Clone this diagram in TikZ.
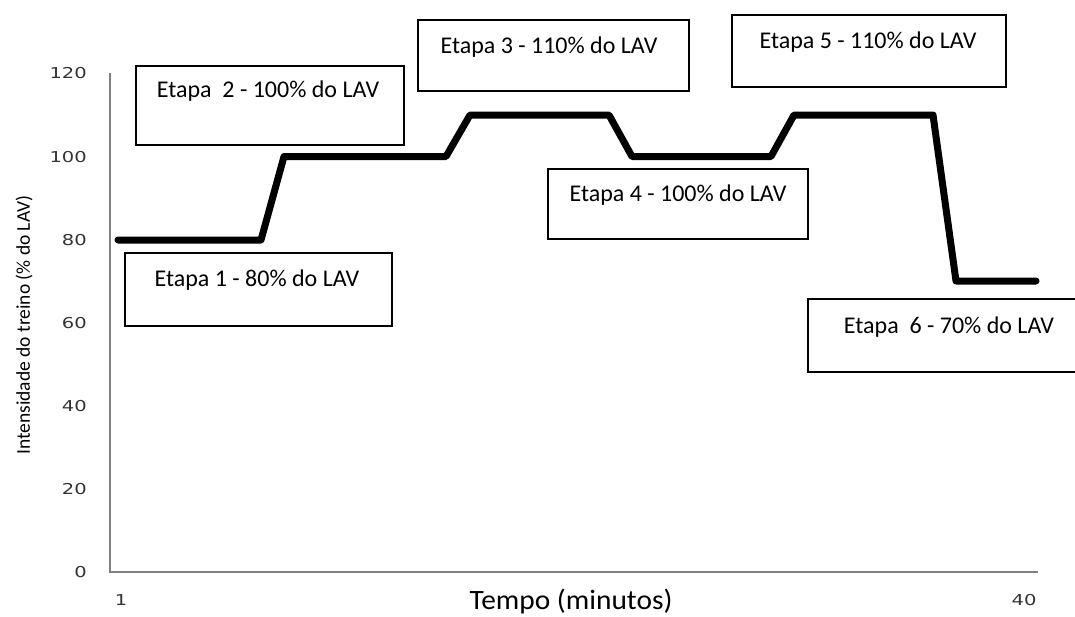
\documentclass[tikz,border=0pt]{standalone}
\usepackage{fontspec}
\setmainfont{Carlito}
\newfontfamily\tickfont{DejaVu Sans}
\begin{document}
\begin{tikzpicture}[x=1pt,y=-1pt,
  stagebox/.style={draw=black, line width=2pt, fill=white, inner sep=0pt},
  stagetext/.style={font=\fontsize{24}{27}\selectfont, inner sep=0pt, anchor=center},
  ticklab/.style={font=\tickfont\fontsize{15}{17}\selectfont, text=black!80, inner sep=0pt, xscale=1.3},
  axisline/.style={draw=black!50, line width=1.2pt},
  dataline/.style={draw=black, line width=7pt, line join=round, line cap=round}
]
\useasboundingbox (0,0) rectangle (1075,616);
% axes
\coordinate (o) at (110,572);
\coordinate (ytop) at (110,73);
\coordinate (xend) at (1038,572);
\draw[axisline] (ytop) -- (o) -- (xend);
% y tick labels
\foreach \v/\yy in {0/572,20/489,40/406,60/323,80/240,100/157,120/73}{
  \node[ticklab, anchor=east] (yl\v) at (87,\yy) {\v};
}
\node[ticklab] (xl1) at (121,600) {1};
\node[ticklab] (xl40) at (1024,600) {40};
% axis titles
\node[font=\fontsize{28}{31}\selectfont, inner sep=0pt, xscale=1.05] (xt) at (571,602) {Tempo (minutos)};
\node[font=\fontsize{19.5}{22}\selectfont, inner sep=0pt, rotate=90] (yt) at (24,325) {Intensidade do treino (\% do LAV)};
% data line
\coordinate (p0) at (118,240);
\coordinate (p1) at (261,240);
\coordinate (p2) at (284,156.5);
\coordinate (p3) at (446,156.5);
\coordinate (p4) at (470,115);
\coordinate (p5) at (609,115);
\coordinate (p6) at (632,156.5);
\coordinate (p7) at (771,156.5);
\coordinate (p8) at (794,115);
\coordinate (p9) at (933,115);
\coordinate (p10) at (956,281);
\coordinate (p11) at (1036,281);
\draw[dataline] (p0) -- (p1) -- (p2) -- (p3) -- (p4) -- (p5) -- (p6) -- (p7) -- (p8) -- (p9) -- (p10) -- (p11);
% stage boxes
\node[stagebox, minimum width=267pt, minimum height=73pt] (b1) at (258.5,289.5) {};
\node[stagetext] (t1) at (257,280) {Etapa 1 - 80\% do LAV};
\node[stagebox, minimum width=268pt, minimum height=79pt] (b2) at (270,105.5) {};
\node[stagetext] (t2) at (268,91) {Etapa\hspace{0.45em}2 - 100\% do LAV};
\node[stagebox, minimum width=271pt, minimum height=71pt] (b3) at (553.5,55.5) {};
\node[stagetext] (t3) at (549,47) {Etapa 3 - 110\% do LAV};
\node[stagebox, minimum width=260pt, minimum height=70pt] (b4) at (678,204) {};
\node[stagetext] (t4) at (678,195) {Etapa 4 - 100\% do LAV};
\node[stagebox, minimum width=274pt, minimum height=72pt] (b5) at (869,51) {};
\node[stagetext] (t5) at (868,42) {Etapa 5 - 110\% do LAV};
\node[stagebox, minimum width=270pt, minimum height=73pt] (b6) at (943,335.5) {};
\node[stagetext] (t6) at (949,327) {Etapa\hspace{0.45em}6 - 70\% do LAV};
\end{tikzpicture}
\end{document}
